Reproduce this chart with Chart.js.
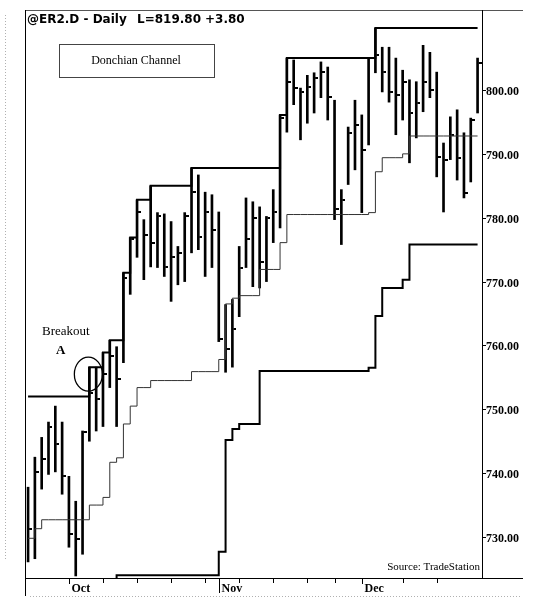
<!DOCTYPE html>
<html><head><meta charset="utf-8">
<script src="https://cdn.jsdelivr.net/npm/chart.js@4"></script>
<style>html,body{margin:0;padding:0;background:#fff}canvas{display:block}</style>
</head><body>
<canvas id="c" width="536" height="611"></canvas>
<script>
const dates = [
 '2006-09-22','2006-09-25','2006-09-26','2006-09-27','2006-09-28','2006-09-29',
 '2006-10-02','2006-10-03','2006-10-04','2006-10-05','2006-10-06','2006-10-09','2006-10-10','2006-10-11','2006-10-12','2006-10-13',
 '2006-10-16','2006-10-17','2006-10-18','2006-10-19','2006-10-20','2006-10-23','2006-10-24','2006-10-25','2006-10-26','2006-10-27','2006-10-30','2006-10-31',
 '2006-11-01','2006-11-02','2006-11-03','2006-11-06','2006-11-07','2006-11-08','2006-11-09','2006-11-10','2006-11-13','2006-11-14','2006-11-15','2006-11-16','2006-11-17',
 '2006-11-20','2006-11-21','2006-11-22','2006-11-24','2006-11-27','2006-11-28','2006-11-29','2006-11-30',
 '2006-12-01','2006-12-04','2006-12-05','2006-12-06','2006-12-07','2006-12-08','2006-12-11','2006-12-12','2006-12-13','2006-12-14','2006-12-15',
 '2006-12-18','2006-12-19','2006-12-20','2006-12-21','2006-12-22','2006-12-26','2006-12-27'
];
const highs = [737.8,742.5,745.6,748.0,750.5,748.0,739.5,735.6,746.6,756.6,756.6,758.9,760.8,759.8,771.4,776.9,782.8,779.7,785.0,780.8,
 780.6,779.4,775.5,780.8,787.8,786.7,784.0,783.6,780.9,766.4,767.2,775.5,783.1,782.5,781.7,780.2,784.4,796.1,805.0,804.7,
 800.3,802.3,802.7,804.4,803.6,798.4,784.4,794.2,798.4,796.1,805.0,809.7,806.7,806.7,805.0,803.1,801.6,801.3,807.0,805.9,
 802.8,791.7,795.8,796.9,793.3,795.6,805.0];
const lows = [726.1,726.6,737.5,739.8,740.2,736.7,728.4,723.9,727.3,745.0,746.6,747.3,753.4,747.3,757.3,768.0,773.8,770.3,772.3,772.2,
 770.8,766.9,769.5,770.0,774.5,775.0,770.8,772.2,760.6,755.8,756.6,764.5,772.2,769.2,769.0,770.0,776.1,778.4,793.4,797.7,
 792.2,794.8,796.4,798.8,795.3,779.7,775.8,785.2,787.5,780.8,791.4,802.7,799.7,798.1,793.0,795.3,788.6,792.5,796.6,798.8,
 786.4,780.9,789.1,785.9,783.1,785.6,796.4];
const closes = [731.3,740.2,742.2,747.3,744.5,739.5,730.5,729.7,746.4,752.5,751.6,755.5,758.3,754.7,770.6,776.6,780.9,777.3,776.1,780.2,
 772.3,773.9,774.5,780.2,784.0,777.0,780.9,778.1,761.0,759.4,762.5,772.2,776.6,780.0,773.0,780.0,780.9,795.6,801.3,800.3,
 799.7,800.5,801.9,802.8,798.9,781.3,782.8,793.3,794.5,790.6,805.0,805.5,802.8,799.7,799.2,801.3,796.4,798.0,801.3,800.0,
 789.5,789.1,793.0,789.4,783.9,795.3,804.2];
const upperBand = [752.0,752.0,752.0,752.0,752.0,752.0,752.0,752.0,752.0,756.6,756.6,758.9,760.8,760.8,771.4,776.9,782.8,782.8,785.0,785.0,
 785.0,785.0,785.0,785.0,787.8,787.8,787.8,787.8,787.8,787.8,787.8,787.8,787.8,787.8,787.8,787.8,787.8,796.1,805.0,805.0,
 805.0,805.0,805.0,805.0,805.0,805.0,805.0,805.0,805.0,805.0,805.0,809.7,809.7,809.7,809.7,809.7,809.7,809.7,809.7,809.7,
 809.7,809.7,809.7,809.7,809.7,809.7,809.7];
const middleBand = [729.8,731.3,732.7,732.7,732.7,732.7,732.7,732.7,732.7,735.0,735.0,736.2,741.7,742.4,747.7,750.5,753.4,753.4,754.5,754.5,
 754.5,754.5,754.5,754.5,755.9,755.9,755.9,755.9,757.8,766.5,767.4,767.8,767.8,767.8,771.9,771.9,771.9,776.1,780.5,780.5,
 780.5,780.5,780.5,780.5,780.5,780.5,780.5,780.5,780.5,780.5,780.8,787.2,789.4,789.4,789.4,790.0,792.8,792.8,792.8,792.8,
 792.8,792.8,792.8,792.8,792.8,792.8,792.8];
const lowerBand = [707.6,710.6,713.4,713.4,713.4,713.4,713.4,713.4,713.4,713.4,713.4,713.4,722.6,724.0,724.0,724.0,724.0,724.0,724.0,724.0,
 724.0,724.0,724.0,724.0,724.0,724.0,724.0,724.0,727.7,745.2,746.9,747.7,747.7,747.7,756.0,756.0,756.0,756.0,756.0,756.0,
 756.0,756.0,756.0,756.0,756.0,756.0,756.0,756.0,756.0,756.0,756.5,764.6,769.0,769.0,769.0,770.3,775.8,775.8,775.8,775.8,
 775.8,775.8,775.8,775.8,775.8,775.8,775.8];
const yTicks = [730,740,750,760,770,780,790,800];
const weekTicks = ['2006-10-09','2006-10-16','2006-10-23','2006-10-30','2006-11-06','2006-11-13','2006-11-20','2006-11-27','2006-12-11','2006-12-18'];
const monthNames = ['Jan','Feb','Mar','Apr','May','Jun','Jul','Aug','Sep','Oct','Nov','Dec'];

const pts = arr => arr.map((v,i)=>({x:i,y:v}));
const barData = dates.map((d,i)=>({x:i,y:[lows[i],highs[i]]}));

const tickImg = document.createElement('canvas');
tickImg.width = 8; tickImg.height = 2;
const tctx = tickImg.getContext('2d'); tctx.fillStyle = '#000'; tctx.fillRect(5,0,3,2);

const overlay = {
  id:'overlay',
  afterDraw(chart){
    const {ctx, chartArea:a, scales:{x, y}} = chart;
    ctx.save();
    // scan artifacts (faint dotted)
    ctx.strokeStyle = '#b0b0b0'; ctx.lineWidth = 1; ctx.setLineDash([1,2]);
    ctx.beginPath(); ctx.moveTo(5.5, 15); ctx.lineTo(5.5, 560); ctx.stroke();
    ctx.beginPath(); ctx.moveTo(30, 596.5); ctx.lineTo(522, 596.5); ctx.stroke();
    ctx.setLineDash([]);
    // frame
    ctx.strokeStyle = '#555';
    ctx.beginPath(); ctx.moveTo(a.left, a.top+0.5); ctx.lineTo(523, a.top+0.5); ctx.stroke();
    ctx.strokeStyle = '#000';
    ctx.beginPath(); ctx.moveTo(a.left+0.5, a.top); ctx.lineTo(a.left+0.5, 596); ctx.stroke();
    ctx.beginPath(); ctx.moveTo(a.left, a.bottom+0.5); ctx.lineTo(523, a.bottom+0.5); ctx.stroke();
    ctx.beginPath(); ctx.moveTo(a.right+0.5, a.top); ctx.lineTo(a.right+0.5, a.bottom); ctx.stroke();
    // y ticks
    ctx.fillStyle = '#000';
    ctx.font = 'bold 12px "Liberation Serif"';
    ctx.textAlign = 'left'; ctx.textBaseline = 'middle';
    yTicks.forEach(v=>{
      const py = Math.round(y.getPixelForValue(v)) + 0.5;
      ctx.beginPath(); ctx.moveTo(a.right, py); ctx.lineTo(a.right+4, py); ctx.stroke();
      ctx.fillText(v.toFixed(2), a.right+4, py+1);
    });
    // week ticks
    weekTicks.forEach(d=>{
      const i = dates.indexOf(d); if (i<0) return;
      const px = Math.round(x.getPixelForValue(i)) + 0.5;
      ctx.beginPath(); ctx.moveTo(px, a.bottom); ctx.lineTo(px, a.bottom+5); ctx.stroke();
    });
    // month labels
    dates.forEach((d,i)=>{
      if (i===0) return;
      const m = +d.slice(5,7), pm = +dates[i-1].slice(5,7);
      if (m !== pm) {
        const px = Math.round(x.getPixelForValue(i)) + 0.5;
        const len = (m===11) ? 15 : 6;
        ctx.beginPath(); ctx.moveTo(px, a.bottom); ctx.lineTo(px, a.bottom+len); ctx.stroke();
        ctx.fillText(monthNames[m-1], px+2, a.bottom+11);
      }
    });
    // title
    ctx.font = 'bold 12px "DejaVu Sans"';
    ctx.fillText('@ER2.D - Daily', 27, 20);
    ctx.fillText('L=819.80', 137, 20);
    ctx.fillText('+3.80', 205, 20);
    // legend box
    ctx.strokeStyle = '#444';
    ctx.strokeRect(59.5, 44.5, 155, 33);
    ctx.font = '12px "Liberation Serif"'; ctx.textAlign = 'center';
    ctx.fillText('Donchian Channel', 136, 61);
    // breakout annotation
    ctx.textAlign = 'left';
    ctx.font = '13px "Liberation Serif"';
    ctx.fillText('Breakout', 42, 332);
    ctx.font = 'bold 13px "Liberation Serif"';
    ctx.fillText('A', 56, 351);
    const bi = 9;
    const cx = x.getPixelForValue(bi) - 1, cy = y.getPixelForValue(upperBand[bi]) + 7;
    ctx.strokeStyle = '#000'; ctx.lineWidth = 1.3;
    ctx.beginPath(); ctx.ellipse(cx, cy, 14, 17, 0, 0, Math.PI*2); ctx.stroke();
    // source
    ctx.font = '11px "Liberation Serif"'; ctx.textAlign = 'right';
    ctx.fillText('Source: TradeStation', 480, 567);
    ctx.restore();
  }
};

new Chart(document.getElementById('c'), {
  type:'bar',
  data:{ datasets:[
    {type:'line', label:'Upper', data:pts(upperBand), borderColor:'#000', borderWidth:2, pointRadius:0, stepped:true, tension:0},
    {type:'line', label:'Middle', data:pts(middleBand), borderColor:'#333', borderWidth:1, pointRadius:0, stepped:true, tension:0},
    {type:'line', label:'Lower', data:pts(lowerBand), borderColor:'#000', borderWidth:2, pointRadius:0, stepped:true, tension:0},
    {type:'bar', label:'HL', data:barData, backgroundColor:'#000', borderWidth:0, barThickness:2, grouped:false},
    {type:'scatter', label:'Close', data:pts(closes), pointStyle:tickImg, pointRadius:4, showLine:false}
  ]},
  options:{
    responsive:false, animation:false, devicePixelRatio:1, events:[],
    layout:{padding:{left:25, top:10, right:54, bottom:33}},
    plugins:{legend:{display:false}, tooltip:{enabled:false}},
    scales:{
      x:{type:'linear', min:-0.45, max:66.65, offset:false, display:false},
      y:{type:'linear', min:723.58, max:812.53, display:false}
    }
  },
  plugins:[overlay]
});
</script>
</body></html>
